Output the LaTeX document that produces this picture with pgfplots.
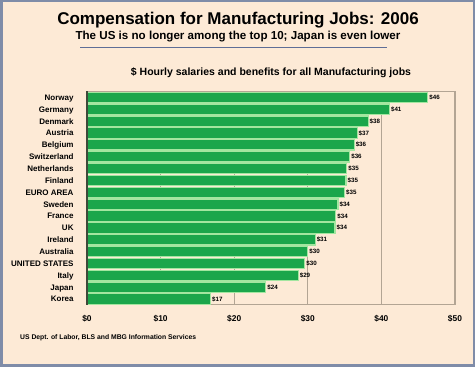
\documentclass[border=0pt]{standalone}
\usepackage{fontspec}
\setmainfont{Liberation Sans}
\usepackage{pgfplots}
\usepackage{pgfplotstable}
\pgfplotsset{compat=1.18}
\definecolor{bg}{HTML}{FDEAD6}
\definecolor{framec}{HTML}{7F8CA8}
\definecolor{barg}{HTML}{1BA64B}
\definecolor{barl}{HTML}{A3E6A0}
\definecolor{gridc}{HTML}{B3A594}
\definecolor{uline}{HTML}{5F6E96}
\definecolor{axdark}{HTML}{3F4A3A}

\pgfplotstableread{
y val lab
0 46.3 46
1 41.1 41
2 38.2 38
3 36.7 37
4 36.3 36
5 35.7 36
6 35.3 35
7 35.2 35
8 35.0 35
9 34.1 34
10 33.8 34
11 33.7 34
12 31.0 31
13 30.0 30
14 29.6 30
15 28.7 29
16 24.3 24
17 16.8 17
}\data

\begin{document}
\begin{tikzpicture}[x=1pt,y=1pt]
\fill[bg] (0,0) rectangle (475,367);
\draw[framec, line width=2.5pt] (1.25,1.25) rectangle (473.75,365.75);
\useasboundingbox (0,0) rectangle (475,367);
\node[anchor=base, font=\bfseries\fontsize{17}{20}\selectfont] at (238,342) {Compensation for Manufacturing Jobs: 2006};
\node[anchor=base, font=\bfseries\fontsize{11.6}{14}\selectfont] at (238,327) {The US is no longer among the top 10; Japan is even lower};
\draw[uline, line width=1.6pt] (80,319.3) -- (387,319.3);
\node[anchor=base, font=\bfseries\fontsize{10.5}{12}\selectfont] at (271,291) {\$ Hourly salaries and benefits for all Manufacturing jobs};
\node[anchor=base west, inner sep=0pt, font=\bfseries\fontsize{6.8}{8}\selectfont] at (20,27.7) {US Dept. of Labor, BLS and MBG Information Services};
\begin{axis}[
  at={(87pt,62pt)}, anchor=south west, scale only axis,
  width=368pt, height=213.5pt,
  xbar, bar width=10.4pt,
  xmin=0, xmax=50, ymin=-0.5, ymax=17.5, y dir=reverse,
  ytick={0,...,17},
  yticklabels={Norway,Germany,Denmark,Austria,Belgium,Switzerland,Netherlands,Finland,EURO AREA,Sweden,France,UK,Ireland,Australia,UNITED STATES,Italy,Japan,Korea},
  xtick={0,10,20,30,40,50},
  xticklabels={\$0,\$10,\$20,\$30,\$40,\$50},
  xmajorgrids,
  major grid style={gridc, line width=0.8pt},
  axis line style={gridc, line width=1pt},
  tick style={draw=none},
  yticklabel style={anchor=base east, inner sep=0pt, xshift=-9pt, yshift=-2.9pt, font=\bfseries\fontsize{8}{9}\selectfont},
  xticklabel style={anchor=base, inner sep=0pt, yshift=-16pt, font=\bfseries\fontsize{8.4}{10}\selectfont},
  axis background/.style={fill=bg},
  clip=false,
]
\addplot[fill=barg, draw=barl, line width=1.2pt,
  point meta=explicit symbolic,
  nodes near coords={\$\pgfplotspointmeta},
  nodes near coords style={anchor=west, inner sep=1pt, font=\bfseries\fontsize{6.2}{7}\selectfont, text=black}]
  table[x=val, y=y, meta=lab] {\data};
\draw[axdark, line width=1.3pt] (axis cs:0,-0.5) -- (axis cs:0,17.5);
\end{axis}
\end{tikzpicture}
\end{document}
